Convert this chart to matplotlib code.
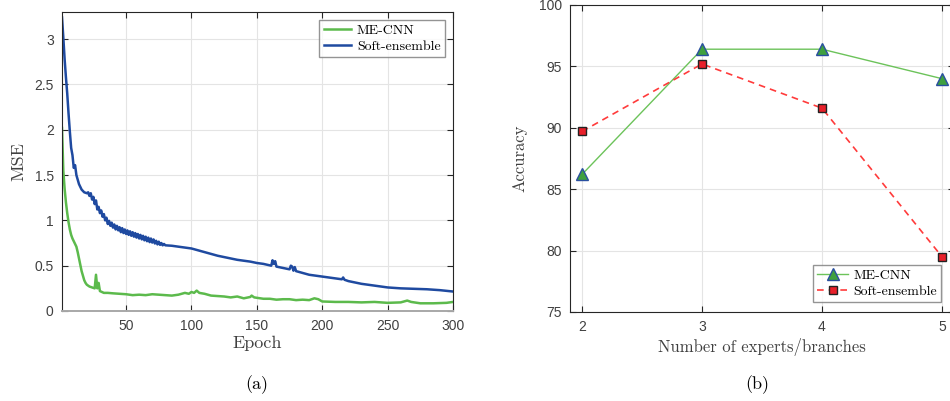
import matplotlib
matplotlib.use("Agg")
import matplotlib.pyplot as plt

# (a) training curves, MSE vs epoch
blue_epochs = [1, 2, 3, 4, 5, 6, 7, 8, 9, 10, 11, 12, 13, 14, 16, 18,
               20, 21, 22, 23, 24, 25, 26, 27, 28, 29, 30, 31, 32, 33, 34, 35, 36, 37, 38, 39,
               40, 41, 42, 43, 44, 45, 46, 47, 48, 49, 50, 51, 52, 53, 54, 55, 56, 57, 58, 59,
               60, 61, 62, 63, 64, 65, 66, 67, 68, 69, 70, 71, 72, 73, 74, 75, 76, 77, 78, 79, 80,
               85, 90, 95, 100, 105, 110, 115, 120, 125, 130, 135, 140, 145, 150, 155,
               158, 161, 162, 163, 164, 165, 170, 175, 176, 177, 178, 179, 180, 185, 190,
               200, 210, 215, 216, 217, 220, 230, 240, 250, 260, 270, 280, 290, 300]
blue_mse = [3.24, 3.02, 2.78, 2.58, 2.40, 2.18, 1.98, 1.80, 1.72, 1.58, 1.61, 1.50, 1.45, 1.40, 1.34, 1.31,
            1.30, 1.31, 1.27, 1.30, 1.23, 1.26, 1.18, 1.22, 1.12, 1.15, 1.08, 1.11, 1.04, 1.07, 1.00, 1.03, 0.96, 0.995, 0.94, 0.975,
            0.92, 0.955, 0.90, 0.94, 0.89, 0.925, 0.87, 0.915, 0.86, 0.90, 0.85, 0.89, 0.84, 0.88, 0.83, 0.87, 0.82, 0.86, 0.81, 0.85,
            0.80, 0.84, 0.79, 0.83, 0.78, 0.82, 0.77, 0.81, 0.76, 0.80, 0.755, 0.79, 0.745, 0.775, 0.735, 0.765, 0.73, 0.75, 0.725, 0.74, 0.725,
            0.72, 0.71, 0.70, 0.69, 0.67, 0.65, 0.63, 0.61, 0.595, 0.58, 0.565, 0.555, 0.545, 0.53, 0.52,
            0.51, 0.50, 0.56, 0.52, 0.55, 0.49, 0.475, 0.46, 0.50, 0.49, 0.445, 0.485, 0.44, 0.42, 0.40,
            0.38, 0.36, 0.35, 0.37, 0.345, 0.33, 0.30, 0.28, 0.26, 0.25, 0.245, 0.24, 0.23, 0.215]

green_epochs = [1, 2, 3, 4, 5, 6, 7, 8, 9, 10, 11, 12, 13, 14, 15, 16, 17, 18, 19, 20,
                22, 24, 26, 27, 28, 29, 30, 33, 36, 40, 45, 50, 55, 60, 65, 70, 75, 80, 85,
                90, 95, 98, 100, 102, 104, 106, 110, 115, 120, 125, 130, 135, 140, 145, 146,
                148, 155, 160, 165, 170, 175, 180, 185, 190, 194, 197, 200, 210, 220, 230,
                240, 250, 260, 265, 268, 275, 285, 295, 300]
green_mse = [2.02, 1.55, 1.35, 1.20, 1.08, 0.98, 0.90, 0.84, 0.80, 0.77, 0.74, 0.71, 0.65, 0.58, 0.51, 0.44, 0.39, 0.34, 0.31, 0.29,
             0.27, 0.26, 0.25, 0.40, 0.25, 0.31, 0.22, 0.20, 0.20, 0.195, 0.19, 0.185, 0.175, 0.18, 0.175, 0.185, 0.18, 0.175, 0.17,
             0.18, 0.20, 0.19, 0.21, 0.20, 0.225, 0.20, 0.19, 0.17, 0.165, 0.16, 0.15, 0.16, 0.14, 0.155, 0.17,
             0.15, 0.135, 0.135, 0.125, 0.13, 0.13, 0.12, 0.125, 0.12, 0.14, 0.13, 0.105, 0.10, 0.10, 0.095,
             0.10, 0.09, 0.095, 0.115, 0.10, 0.085, 0.085, 0.09, 0.10]

# (b) accuracy vs number of experts
experts = [2, 3, 4, 5]
acc_mecnn = [86.2, 96.4, 96.4, 94.0]
acc_soft = [89.7, 95.2, 91.6, 79.5]

serif = "cmr10"
tick_color = "#404040"
grid_color = "#e4e4e4"

fig = plt.figure(figsize=(9.5, 4.01), dpi=100)

# ------------------------- (a) -------------------------
ax1 = fig.add_axes([62 / 950, 1 - 311 / 401, 391 / 950, 299 / 401])
ax1.plot(green_epochs, green_mse, color="#5cba4c", linewidth=1.8, label="ME-CNN")
ax1.plot(blue_epochs, blue_mse, color="#1f4aa0", linewidth=1.8, label="Soft-ensemble")
ax1.set_xlim(1, 300)
ax1.set_ylim(0, 3.3)
ax1.set_xticks([50, 100, 150, 200, 250, 300])
ax1.set_yticks([0, 0.5, 1, 1.5, 2, 2.5, 3])
ax1.set_yticklabels(["0", "0.5", "1", "1.5", "2", "2.5", "3"])
ax1.set_xlabel("Epoch", fontfamily=serif, fontsize=13, color="#404040", labelpad=2)
ax1.set_ylabel("MSE", fontfamily=serif, fontsize=13, color="#404040", labelpad=6)
leg1 = ax1.legend(loc="upper right", prop={"family": serif, "size": 10}, fancybox=False,
                  edgecolor="#7a7a7a", handlelength=2.0, borderpad=0.3, labelspacing=0.2,
                  handletextpad=0.4, borderaxespad=0.6)
leg1.get_frame().set_linewidth(1.0)

# ------------------------- (b) -------------------------
ax2 = fig.add_axes([570 / 950, 1 - 312 / 401, 384 / 950, 307 / 401])
ax2.plot(experts, acc_mecnn, color="#6cc35a", linewidth=1.0, marker="^", markersize=8,
         markerfacecolor="#3fa03f", markeredgecolor="#2a4fa0", markeredgewidth=1.0, label="ME-CNN")
ax2.plot(experts, acc_soft, color="#ff3b3b", linewidth=1.2, linestyle=(0, (4, 3)), marker="s",
         markersize=5.5, markerfacecolor="#e8202a", markeredgecolor="#222222", markeredgewidth=1.0,
         label="Soft-ensemble")
ax2.set_xlim(1.9, 5.1)
ax2.set_ylim(75, 100)
ax2.set_xticks(experts)
ax2.set_yticks([75, 80, 85, 90, 95, 100])
ax2.set_xlabel("Number of experts/branches", fontfamily=serif, fontsize=12, color="#404040", labelpad=3)
ax2.set_ylabel("Accuracy", fontfamily=serif, fontsize=12, color="#404040", labelpad=8)
leg2 = ax2.legend(loc="lower right", prop={"family": serif, "size": 10}, fancybox=False,
                  edgecolor="#7a7a7a", handlelength=2.2, borderpad=0.3, labelspacing=0.2,
                  handletextpad=0.4, bbox_to_anchor=(0.985, 0.01))
leg2.get_frame().set_linewidth(1.0)

for ax in (ax1, ax2):
    ax.grid(True, color=grid_color, linewidth=0.8)
    ax.set_axisbelow(True)
    ax.tick_params(direction="in", top=True, right=True, length=4, width=0.8,
                   labelsize=10, labelcolor=tick_color, color="#262626", pad=6)
    for lbl in ax.get_xticklabels() + ax.get_yticklabels():
        lbl.set_fontfamily("Liberation Sans")
    for sp in ax.spines.values():
        sp.set_color("#262626")
        sp.set_linewidth(0.8)
ax1.spines["bottom"].set_color("#a8a8a8")
ax1.spines["bottom"].set_linewidth(1.4)

fig.text(257 / 950, 1 - 385 / 401, "(a)", fontfamily=serif, fontsize=13, ha="center", va="center")
fig.text(757 / 950, 1 - 385 / 401, "(b)", fontfamily=serif, fontsize=13, ha="center", va="center")

fig.savefig("out.png", dpi=100)
